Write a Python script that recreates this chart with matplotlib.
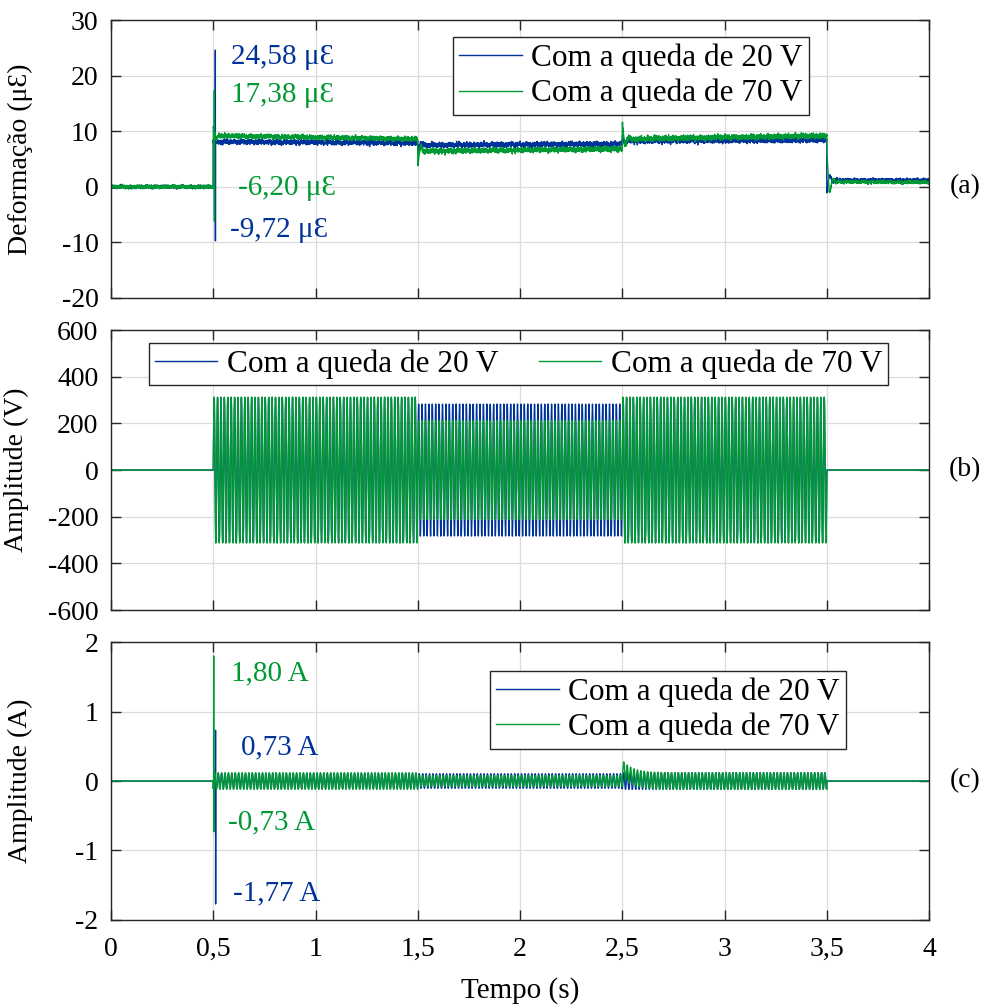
import numpy as np
import matplotlib
matplotlib.use("Agg")
import matplotlib.pyplot as plt
from matplotlib.ticker import FuncFormatter

plt.rcParams['font.family'] = ['Liberation Serif', 'DejaVu Serif']
plt.rcParams['axes.unicode_minus'] = False

BLUE = '#003399'
GREEN = '#009933'

# test timeline: voltage sag applied between 1.5 s and 2.5 s
fs = 2000
f_grid = 60.0
seg_edges = [0.0, 0.5, 1.5, 2.5, 3.5, 4.0]
labels = ['Com a queda de 20 V', 'Com a queda de 70 V']

# strain levels (start, end) per segment, in microstrain
strain_start_20 = [0.0, 8.1, 7.5, 8.2, 1.2]
strain_end_20 = [0.0, 7.9, 7.7, 8.4, 1.2]
strain_start_70 = [0.0, 9.2, 6.4, 8.6, 0.9]
strain_end_70 = [0.0, 8.6, 6.8, 9.2, 0.8]
strain_noise = [0.45, 0.75, 0.75, 0.75, 0.45]
strain_kick_20 = [0.0, -0.8, 0.9, -2.2]
strain_kick_70 = [1.8, -2.6, 2.8, 5.2]
strain_peaks_20 = (24.58, -9.72)
strain_peaks_70 = (17.38, -6.20)

# peak supply voltage per energised segment (0.5-1.5, 1.5-2.5, 2.5-3.5)
volt_amp_20 = [311, 283, 311]
volt_amp_70 = [313, 212, 313]

# current amplitude per energised segment, plus inrush peaks
curr_amp_20 = [0.11, 0.105, 0.12]
curr_amp_70 = [0.12, 0.08, 0.12]
curr_dc_70 = [0.0, 0.0, 0.18]
curr_peaks_20 = (0.73, -1.77)
curr_peaks_70 = (1.80, -0.73)

t = np.arange(0, 4.0, 1 / fs)


def ripple(tt, shift):
    freqs = [23.7, 58.1, 97.3, 141.9, 203.3, 271.1, 337.7, 419.3, 557.9, 683.1, 811.3, 947.9]
    s = sum(np.sin(2 * np.pi * f * tt + 1.7 * k * shift + k * k) for k, f in enumerate(freqs))
    return s / np.abs(s).max()


def strain(start, end, noise, kicks, peaks, t_peak, shift):
    y = np.zeros_like(t)
    for i in range(len(start)):
        m = (t >= seg_edges[i]) & (t < seg_edges[i + 1])
        frac = (t[m] - seg_edges[i]) / (seg_edges[i + 1] - seg_edges[i])
        y[m] = start[i] + (end[i] - start[i]) * frac + noise[i] * ripple(t[m], shift)
    for te, k in zip(seg_edges[1:5], kicks):
        m = t >= te
        y[m] += k * np.exp(-(t[m] - te) / 0.015) * np.cos(2 * np.pi * 30 * (t[m] - te))
    i0 = np.searchsorted(t, t_peak)
    y[i0], y[i0 + 1] = peaks
    return y


def voltage(amps):
    y = np.zeros_like(t)
    for i, a in enumerate(amps):
        m = (t >= seg_edges[i + 1]) & (t < seg_edges[i + 2])
        y[m] = a * np.sin(2 * np.pi * f_grid * (t[m] - 0.5))
    return y


def current(amps, dcs, peaks, t_peak):
    y = np.zeros_like(t)
    for i, (a, d) in enumerate(zip(amps, dcs)):
        te = seg_edges[i + 1]
        m = (t >= te) & (t < seg_edges[i + 2])
        y[m] = a * np.sin(2 * np.pi * f_grid * (t[m] - 0.5) - 1.2) + d * np.exp(-(t[m] - te) / 0.05)
    i0 = np.searchsorted(t, t_peak)
    y[i0], y[i0 + 1] = peaks
    return y


eps_20 = strain(strain_start_20, strain_end_20, strain_noise, strain_kick_20, strain_peaks_20, 0.510, 0.0)
eps_70 = strain(strain_start_70, strain_end_70, strain_noise, strain_kick_70, strain_peaks_70, 0.505, 2.3)
v_20 = voltage(volt_amp_20)
v_70 = voltage(volt_amp_70)
i_20 = current(curr_amp_20, [0.0, 0.0, 0.0], curr_peaks_20, 0.511)
i_70 = current(curr_amp_70, curr_dc_70, curr_peaks_70, 0.502)

fig = plt.figure(figsize=(9.87, 10.06), dpi=100)
left, width = 0.1125, 0.8288
ax_a = fig.add_axes([left, 0.7038, width, 0.2763])
ax_b = fig.add_axes([left, 0.3936, width, 0.2783])
ax_c = fig.add_axes([left, 0.0855, width, 0.2763])

comma = FuncFormatter(lambda x, p: ('%g' % x).replace('.', ','))
leg_style = dict(fontsize=22.5, fancybox=False, edgecolor='#262626', framealpha=1,
                 borderpad=0.2, handletextpad=0.3, borderaxespad=0)

for ax in (ax_a, ax_b, ax_c):
    ax.set_xlim(0, 4)
    ax.set_xticks(np.arange(0, 4.01, 0.5))
    ax.grid(True, color='#dcdcdc', linewidth=0.9)
    ax.set_axisbelow(True)
    ax.tick_params(direction='in', length=7, width=1, top=True, right=True,
                   labelsize=20, colors='#262626', labelcolor='black')
    ax.tick_params(axis='y', pad=9)
    ax.tick_params(axis='x', pad=12)
    for s in ax.spines.values():
        s.set_color('#262626')
        s.set_linewidth(1.0)

# (a) strain
ax_a.plot(t, eps_20, color=BLUE, lw=1.0, label=labels[0])
ax_a.plot(t, eps_70, color=GREEN, lw=1.0, label=labels[1])
ax_a.set_ylim(-20, 30)
ax_a.set_yticks(np.arange(-20, 31, 10))
ax_a.set_xticklabels([])
ax_a.set_ylabel('Deformação (μƐ)', fontsize=20)
ax_a.yaxis.set_label_coords(-0.095, 0.5)
ax_a.text(0.587, 23.3, '24,58 μƐ', color=BLUE, fontsize=21, va='center')
ax_a.text(0.587, 16.5, '17,38 μƐ', color=GREEN, fontsize=21, va='center')
ax_a.text(0.621, -0.2, '-6,20 μƐ', color=GREEN, fontsize=21, va='center')
ax_a.text(0.582, -7.8, '-9,72 μƐ', color=BLUE, fontsize=21, va='center')
ax_a.legend(loc='upper left', bbox_to_anchor=(0.418, 0.939), labelspacing=0.2, **leg_style)

# (b) supply voltage
ax_b.plot(t, v_20, color=BLUE, lw=1.0, label=labels[0])
ax_b.plot(t, v_70, color=GREEN, lw=1.0, label=labels[1])
ax_b.set_ylim(-600, 600)
ax_b.set_yticks(np.arange(-600, 601, 200))
ax_b.set_xticklabels([])
ax_b.set_ylabel('Amplitude (V)', fontsize=20)
ax_b.yaxis.set_label_coords(-0.1, 0.5)
ax_b.legend(loc='upper left', bbox_to_anchor=(0.046, 0.954), ncol=2,
            columnspacing=1.3, **leg_style)

# (c) current
ax_c.plot(t, i_20, color=BLUE, lw=1.0, label=labels[0])
ax_c.plot(t, i_70, color=GREEN, lw=1.0, label=labels[1])
ax_c.set_ylim(-2, 2)
ax_c.set_yticks(np.arange(-2, 2.1, 1))
ax_c.xaxis.set_major_formatter(comma)
ax_c.set_xlabel('Tempo (s)', fontsize=21, labelpad=11)
ax_c.set_ylabel('Amplitude (A)', fontsize=20)
ax_c.yaxis.set_label_coords(-0.095, 0.5)
ax_c.text(0.587, 1.55, '1,80 A', color=GREEN, fontsize=21, va='center')
ax_c.text(0.636, 0.49, '0,73 A', color=BLUE, fontsize=21, va='center')
ax_c.text(0.572, -0.59, '-0,73 A', color=GREEN, fontsize=21, va='center')
ax_c.text(0.597, -1.61, '-1,77 A', color=BLUE, fontsize=21, va='center')
ax_c.legend(loc='upper left', bbox_to_anchor=(0.463, 0.896), labelspacing=0.2, **leg_style)

for ax, tag in ((ax_a, '(a)'), (ax_b, '(b)'), (ax_c, '(c)')):
    ax.text(1.044, 0, tag, transform=ax.get_yaxis_transform(), fontsize=20,
            ha='center', va='center')

fig.savefig('out.png', dpi=100)
